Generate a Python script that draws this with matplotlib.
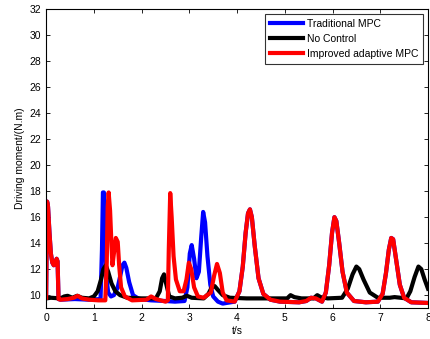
import numpy as np
import matplotlib
matplotlib.use("Agg")
import matplotlib.pyplot as plt

plt.rcParams["font.family"] = ["Liberation Sans", "DejaVu Sans"]

# --- data ---
red_t = [0.0, 0.02, 0.04, 0.07, 0.1, 0.13, 0.16, 0.19, 0.22, 0.24, 0.26, 0.3, 0.45,
         0.58, 0.66, 0.75, 0.9, 1.1, 1.24, 1.27, 1.29, 1.31, 1.34, 1.37, 1.39, 1.42,
         1.46, 1.5, 1.53, 1.57, 1.65, 1.8, 2.1, 2.2, 2.3, 2.5, 2.55, 2.57, 2.6, 2.63,
         2.67, 2.72, 2.8, 2.88, 2.94, 2.99, 3.04, 3.1, 3.18, 3.3, 3.45, 3.52, 3.58,
         3.64, 3.7, 3.78, 3.95, 4.05, 4.12, 4.18, 4.23, 4.27, 4.31, 4.37, 4.45, 4.55,
         4.7, 4.9, 5.3, 5.45, 5.55, 5.65, 5.78, 5.86, 5.93, 5.99, 6.04, 6.08, 6.14,
         6.21, 6.3, 6.45, 6.7, 6.95, 7.05, 7.12, 7.18, 7.23, 7.27, 7.33, 7.41, 7.5,
         7.65, 8.0]
red_v = [9.8, 17.2, 16.8, 14.8, 13.2, 12.5, 12.3, 12.4, 12.8, 12.6, 9.7, 9.65, 9.7,
         9.8, 9.95, 9.75, 9.65, 9.6, 9.6, 12.5, 16.8, 17.9, 16.5, 13.8, 12.3, 13.2,
         14.4, 14.1, 12.3, 10.6, 9.9, 9.6, 9.65, 9.9, 9.7, 9.5, 9.6, 13.5, 17.85, 16.0,
         13.0, 11.2, 10.3, 10.3, 11.2, 12.5, 12.0, 10.6, 9.9, 9.8, 10.2, 11.5, 12.4,
         11.7, 10.2, 9.6, 9.5, 10.3, 12.2, 14.8, 16.3, 16.6, 16.0, 13.8, 11.3, 10.1,
         9.65, 9.5, 9.45, 9.55, 9.8, 9.75, 9.5, 10.2, 12.3, 14.8, 16.0, 15.7, 14.0,
         11.8, 10.2, 9.55, 9.45, 9.5, 10.1, 11.7, 13.5, 14.4, 14.3, 12.8, 10.8, 9.8,
         9.45, 9.4]

blue_early_t = [0.0, 0.02, 0.04, 0.07, 0.1, 0.13, 0.16, 0.19, 0.22, 0.24, 0.26, 0.3,
                0.6, 0.9, 1.14, 1.17, 1.19, 1.21, 1.23, 1.26, 1.3, 1.36, 1.42, 1.5,
                1.56, 1.6, 1.64, 1.68, 1.74, 1.82, 1.95, 2.2, 2.5, 2.7, 2.9, 2.96,
                3.01, 3.05, 3.1, 3.15, 3.2, 3.25, 3.29, 3.33, 3.38, 3.44, 3.5, 3.6,
                3.7, 3.78]
blue_early_v = [9.8, 17.2, 16.8, 14.8, 13.2, 12.5, 12.3, 12.4, 12.8, 12.6, 9.7, 9.65,
                9.7, 9.65, 9.7, 13.5, 17.9, 17.9, 15.0, 11.5, 10.2, 9.9, 10.0, 10.6,
                11.6, 12.3, 12.5, 12.1, 11.0, 10.0, 9.7, 9.6, 9.55, 9.5, 9.55, 10.6,
                13.2, 13.85, 12.8, 11.3, 11.8, 14.5, 16.4, 15.6, 13.0, 10.8, 9.9, 9.5,
                9.35, 9.4]
blue_t = blue_early_t + [t for t in red_t if t > 3.8]
blue_v = blue_early_v + [v for t, v in zip(red_t, red_v) if t > 3.8]

black_t = [0.0, 0.1, 0.3, 0.38, 0.45, 0.55, 0.65, 0.75, 0.9, 1.0, 1.08, 1.15, 1.2,
           1.25, 1.3, 1.37, 1.45, 1.55, 1.7, 2.0, 2.3, 2.38, 2.43, 2.47, 2.52, 2.58,
           2.7, 2.85, 2.95, 3.05, 3.3, 3.4, 3.47, 3.53, 3.6, 3.7, 3.85, 4.2, 4.6,
           5.05, 5.12, 5.2, 5.35, 5.6, 5.68, 5.75, 5.9, 6.2, 6.32, 6.42, 6.5, 6.56,
           6.65, 6.78, 6.95, 7.2, 7.3, 7.55, 7.63, 7.72, 7.8, 7.86, 7.93, 8.0]
black_v = [9.75, 9.8, 9.75, 9.9, 9.95, 9.8, 9.95, 9.8, 9.75, 9.9, 10.3, 11.2, 12.0,
           12.3, 11.8, 10.9, 10.3, 10.0, 9.8, 9.75, 9.75, 10.3, 11.3, 11.6, 10.8, 9.9,
           9.75, 9.8, 9.95, 9.8, 9.75, 10.1, 10.6, 10.7, 10.4, 10.0, 9.8, 9.75, 9.75,
           9.75, 10.0, 9.85, 9.75, 9.75, 10.0, 9.85, 9.75, 9.8, 10.5, 11.6, 12.2, 12.0,
           11.2, 10.2, 9.8, 9.8, 9.85, 9.75, 10.3, 11.4, 12.2, 12.0, 11.2, 10.5]

labels = ["Traditional MPC", "No Control", "Improved adaptive MPC"]

# --- plot ---
fig = plt.figure(figsize=(4.31, 3.39), dpi=100)
ax = fig.add_axes([0.107, 0.091, 0.886, 0.882])

ax.plot(blue_t, blue_v, color="#0000ff", lw=3, label=labels[0], solid_joinstyle="round")
ax.plot(black_t, black_v, color="black", lw=3, label=labels[1], solid_joinstyle="round")
ax.plot(red_t, red_v, color="#ff0000", lw=3, label=labels[2], solid_joinstyle="round")

ax.set_xlim(0, 8)
ax.set_ylim(9, 32)
ax.set_xticks(range(0, 9))
ax.set_yticks(range(10, 33, 2))
ax.tick_params(direction="in", top=True, right=True, labelsize=7.5, length=3, width=0.6)
for s in ax.spines.values():
    s.set_linewidth(0.8)

ax.set_xlabel("t/s", fontsize=7.5, labelpad=2)
ax.set_ylabel("Driving moment/(N.m)", fontsize=7.5, labelpad=3)

leg = ax.legend(loc="upper right", fontsize=7.5, handlelength=3.2, borderpad=0.45,
                labelspacing=0.5, handletextpad=0.4, fancybox=False,
                borderaxespad=0.45)
leg.get_frame().set_edgecolor("black")
leg.get_frame().set_linewidth(0.8)

fig.savefig("out.png", dpi=100)
